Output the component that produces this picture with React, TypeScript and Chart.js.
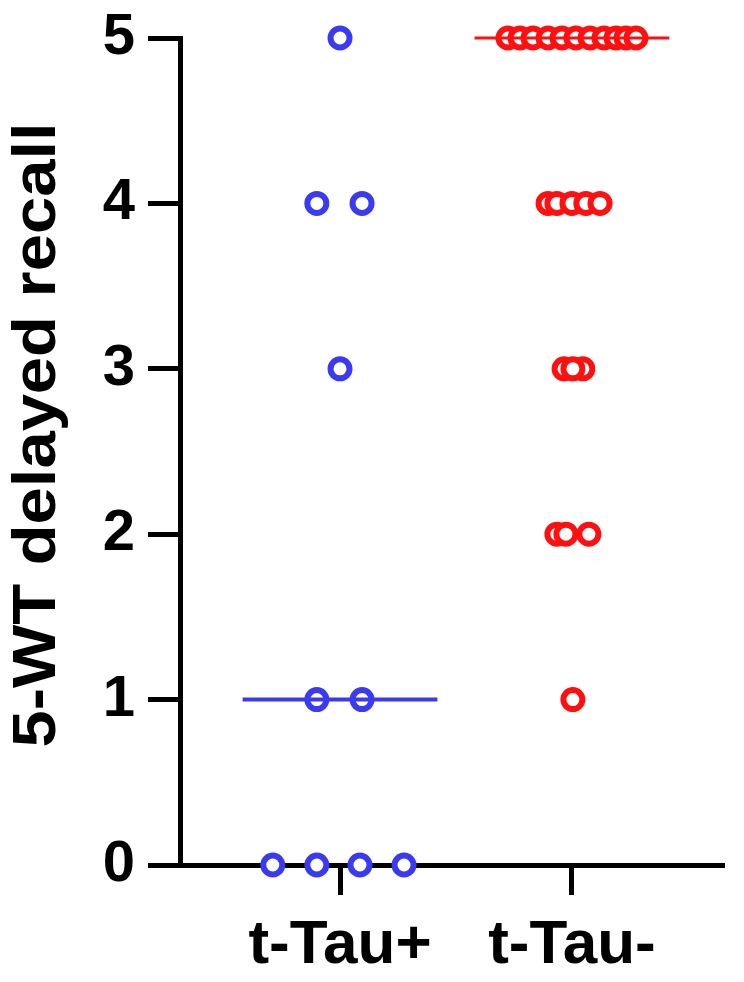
import React, { useEffect, useRef } from "react";
import { Chart, registerables } from "chart.js";

Chart.register(...registerables);

const categories = ["t-Tau+", "t-Tau-"];
const yTicks = [0, 1, 2, 3, 4, 5];
const yTitle = "5-WT delayed recall";

// t-Tau+ group (blue)
const tauPosScores = [5, 4, 4, 3, 1, 1, 0, 0, 0, 0];
const tauPosJitter = [0, -0.1, 0.095, 0, -0.1, 0.095, -0.29, -0.1, 0.086, 0.276];

// t-Tau- group (red)
const tauNegScores = [5, 5, 5, 5, 5, 5, 5, 5, 5, 5, 5, 4, 4, 4, 4, 4, 3, 3, 3, 2, 2, 2, 1];
const tauNegJitter = [
  -0.276, -0.224, -0.168, -0.103, -0.043, 0.017, 0.078, 0.138, 0.19, 0.233, 0.276,
  -0.103, -0.065, 0, 0.06, 0.121,
  -0.034, 0.047, 0.004,
  -0.065, -0.026, 0.073,
  0.004,
];

const medians = [1, 5];
const medianHalfWidth = 0.42;

const BLUE = "#3a3af2";
const RED = "#ff1010";

export default function App() {
  const ref = useRef<HTMLCanvasElement | null>(null);

  useEffect(() => {
    document.body.style.margin = "0";
    const ctx = ref.current;
    if (!ctx) return;

    const pts = (scores: number[], jit: number[], g: number) =>
      scores.map((s, i) => ({ x: g + jit[i], y: s }));
    const medianLine = (g: number) => [
      { x: g - medianHalfWidth, y: medians[g - 1] },
      { x: g + medianHalfWidth, y: medians[g - 1] },
    ];

    const pointStyle = (color: string) => ({
      showLine: false,
      pointRadius: 9.5,
      pointBorderWidth: 6,
      pointBorderColor: color,
      pointBackgroundColor: "#ffffff",
      borderColor: color,
      backgroundColor: "#ffffff",
      clip: false as any,
    });

    const titlePlugin = {
      id: "yTitleDraw",
      afterDraw(c: any) {
        const g = c.ctx as CanvasRenderingContext2D;
        g.save();
        g.translate(38, 435);
        g.rotate(-Math.PI / 2);
        g.scale(1.08, 1);
        g.font = "bold 62px 'Liberation Sans'";
        g.fillStyle = "#000";
        g.textAlign = "center";
        g.textBaseline = "middle";
        g.fillText(yTitle, 0, 0);
        g.restore();
      },
    };

    const chart = new Chart(ctx, {
      type: "scatter",
      data: {
        datasets: [
          {
            data: medianLine(1),
            showLine: true,
            borderColor: BLUE,
            borderWidth: 4,
            pointRadius: 0,
            clip: false as any,
          } as any,
          {
            data: medianLine(2),
            showLine: true,
            borderColor: RED,
            borderWidth: 3,
            pointRadius: 0,
            clip: false as any,
          } as any,
          { data: pts(tauPosScores, tauPosJitter, 1), ...pointStyle(BLUE) } as any,
          { data: pts(tauNegScores, tauNegJitter, 2), ...pointStyle(RED) } as any,
        ],
      },
      plugins: [titlePlugin],
      options: {
        animation: false,
        responsive: false,
        events: [],
        layout: { padding: { top: 38, right: 22, left: 0, bottom: 0 } },
        plugins: { legend: { display: false }, tooltip: { enabled: false } },
        scales: {
          x: {
            type: "linear",
            min: 0.31,
            max: 2.647,
            afterBuildTicks: (scale: any) => {
              scale.ticks = [{ value: 1 }, { value: 2 }];
            },
            afterFit: (scale: any) => {
              scale.height = 117;
              scale.paddingLeft = 0;
              scale.paddingRight = 0;
            },
            grid: {
              drawOnChartArea: false,
              drawTicks: true,
              tickLength: 30,
              tickWidth: 5,
              tickColor: "#000",
              lineWidth: 5,
              color: "#000",
            },
            border: { display: true, width: 5, color: "#000" },
            ticks: {
              padding: 14,
              color: "#000",
              font: { family: "Liberation Sans", size: 62, weight: "bold" },
              callback: (v: any) => categories[Number(v) - 1] ?? "",
              maxRotation: 0,
            },
          },
          y: {
            type: "linear",
            min: 0,
            max: 5,
            afterBuildTicks: (scale: any) => {
              scale.ticks = yTicks.map((v) => ({ value: v }));
            },
            afterFit: (scale: any) => {
              scale.width = 180;
              scale.paddingTop = 0;
              scale.paddingBottom = 0;
            },
            grid: {
              drawOnChartArea: false,
              drawTicks: true,
              tickLength: 32,
              tickWidth: 5,
              tickColor: "#000",
              lineWidth: 5,
              color: "#000",
            },
            border: { display: true, width: 5, color: "#000" },
            ticks: {
              padding: 13,
              color: "#000",
              font: { family: "Liberation Sans", size: 58, weight: "bold" },
            },
          },
        },
      },
    });
    return () => chart.destroy();
  }, []);

  return (
    <div style={{ position: "absolute", left: 0, top: 0, width: 744, height: 982 }}>
      <canvas ref={ref} width={744} height={982} style={{ display: "block", width: 744, height: 982 }} />
    </div>
  );
}
